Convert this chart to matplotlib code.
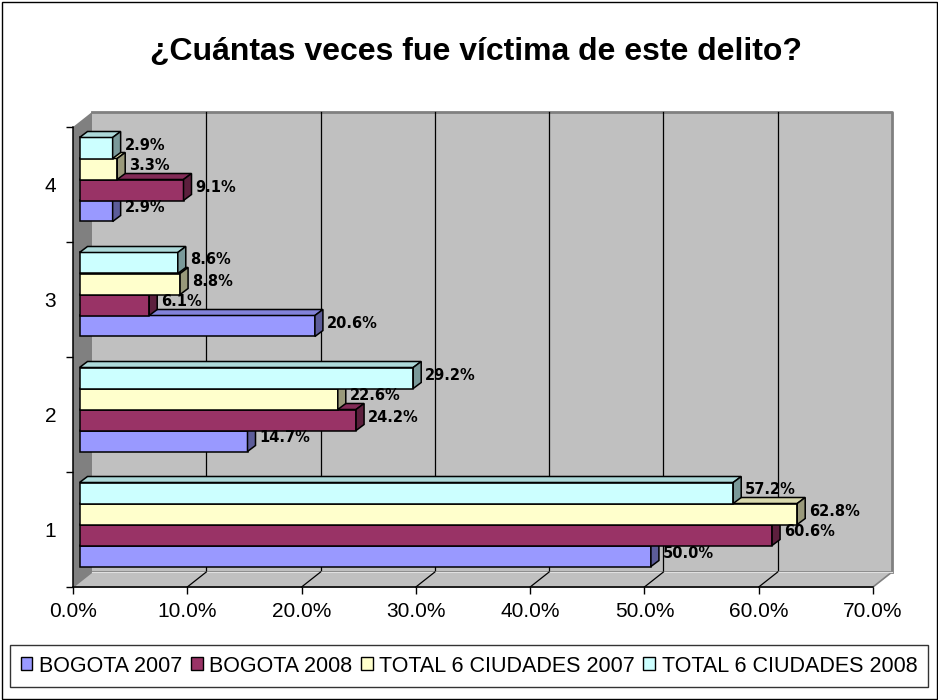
import matplotlib
matplotlib.use('Agg')
import matplotlib.pyplot as plt
from matplotlib.patches import Polygon, Rectangle, Patch
from matplotlib.transforms import offset_copy
import numpy as np

# ---------------- data ----------------
categories = ['1', '2', '3', '4']
series_names = ['BOGOTA 2007', 'BOGOTA 2008', 'TOTAL 6 CIUDADES 2007', 'TOTAL 6 CIUDADES 2008']
bogota_2007 = [50.0, 14.7, 20.6, 2.9]
bogota_2008 = [60.6, 24.2, 6.1, 9.1]
total_2007 = [62.8, 22.6, 8.8, 3.3]
total_2008 = [57.2, 29.2, 8.6, 2.9]
xtick_vals = [0, 10, 20, 30, 40, 50, 60, 70]
title = '¿Cuántas veces fue víctima de este delito?'

series_values = [bogota_2007, bogota_2008, total_2007, total_2008]
colors = ['#9999FF', '#993366', '#FFFFCC', '#CCFFFF']

plt.rcParams['font.family'] = ['Liberation Sans', 'DejaVu Sans']

W, H = 938, 700
fig = plt.figure(figsize=(W / 100, H / 100), dpi=100)
fig.patch.set_facecolor('white')

# front plane of the 3D box in pixels
x_left, x_right = 73, 873
y_top, y_bot = 127, 587
ax = fig.add_axes([x_left / W, (H - y_bot) / H, (x_right - x_left) / W, (y_bot - y_top) / H])
ax.set_xlim(0, 70)
ax.set_ylim(0.5, 4.5)
ax.patch.set_visible(False)

PX = 70 / (x_right - x_left)      # data x per pixel
PY = 4.0 / (y_bot - y_top)        # data y per pixel

# depth geometry (pixels)
wall_dx, wall_dy = 19, 15
bar_fx, bar_fy = 6.5, 5
bar_dx, bar_dy = 8, 6

DX, DY = wall_dx * PX, wall_dy * PY
bx, by = bar_dx * PX, bar_dy * PY

back = offset_copy(ax.transData, fig=fig, x=wall_dx, y=wall_dy, units='dots')
bartr = offset_copy(ax.transData, fig=fig, x=bar_fx, y=bar_fy, units='dots')

wall_col = '#C0C0C0'
dark = '#808080'

# back wall
ax.add_patch(Rectangle((0, 0.5), 70, 4.0, transform=back, facecolor=wall_col,
                       edgecolor='none', zorder=0, clip_on=False))
ax.plot([0, 70, 70], [4.5, 4.5, 0.5], transform=back, color=dark, lw=2, zorder=0.5,
        clip_on=False, solid_capstyle='projecting')
for xv in xtick_vals[1:-1]:
    ax.plot([xv, xv], [0.5, 4.5], transform=back, color='black', lw=0.9, zorder=0.6, clip_on=False)

# left wall
ax.add_patch(Polygon([(0, 0.5), (0, 4.5), (DX, 4.5 + DY), (DX, 0.5 + DY)],
                     facecolor=dark, edgecolor='none', zorder=0.7, clip_on=False))
# floor
ax.add_patch(Polygon([(0, 0.5), (70, 0.5), (70 + DX, 0.5 + DY), (DX, 0.5 + DY)],
                     facecolor=wall_col, edgecolor=dark, lw=1.2, zorder=0.8, clip_on=False))
ax.plot([DX, 70 + DX], [0.5 + DY, 0.5 + DY], color='#E0E0E0', lw=0.8, zorder=0.85, clip_on=False)
for xv in xtick_vals[1:-1]:
    ax.plot([xv, xv + DX], [0.5, 0.5 + DY], color='black', lw=0.9, zorder=0.9, clip_on=False)

# bars
n = len(series_values)
bh = 21 * PY
for i, (vals, col) in enumerate(zip(series_values, colors)):
    rgb = np.array(matplotlib.colors.to_rgb(col))
    top_col = rgb * 0.85
    side_col = rgb * 0.6
    for j, v in enumerate(vals):
        yc = (j + 1) + (i - (n - 1) / 2) * bh
        y0, y1 = yc - bh / 2, yc + bh / 2
        z = 2 + i
        ax.barh(yc, v, height=bh, left=0, color=col, edgecolor='black', linewidth=1.1,
                transform=bartr, zorder=z, clip_on=False)
        ax.add_patch(Polygon([(0, y1), (v, y1), (v + bx, y1 + by), (bx, y1 + by)],
                             transform=bartr, facecolor=top_col, edgecolor='black', lw=1.1,
                             zorder=z, clip_on=False))
        ax.add_patch(Polygon([(v, y0), (v + bx, y0 + by), (v + bx, y1 + by), (v, y1)],
                             transform=bartr, facecolor=side_col, edgecolor='black', lw=1.1,
                             zorder=z, clip_on=False))
        ax.annotate(f'{v:.1f}%', xy=(v, yc), xycoords=bartr,
                    xytext=(bar_dx + 4, bar_dy / 2), textcoords='offset pixels',
                    ha='left', va='center', fontsize=10.5, fontweight='bold',
                    family=['DejaVu Sans'], zorder=10, annotation_clip=False)

# axes lines / ticks
for s in ['top', 'right']:
    ax.spines[s].set_visible(False)
for s in ['left', 'bottom']:
    ax.spines[s].set_color('black')
    ax.spines[s].set_linewidth(1.1)
    ax.spines[s].set_zorder(1)

ax.set_xticks(xtick_vals)
ax.set_xticklabels([f'{v:.1f}%' for v in xtick_vals], fontsize=15)
ax.tick_params(axis='x', direction='out', length=5, width=1, pad=6, colors='black')
ax.set_yticks([1, 2, 3, 4])
ax.set_yticklabels(categories, fontsize=15)
ax.tick_params(axis='y', which='major', length=0, pad=12)
ax.set_yticks([0.5, 1.5, 2.5, 3.5, 4.5], minor=True)
ax.tick_params(axis='y', which='minor', direction='out', length=5, width=1)

# title
fig.text(476 / W, 1 - 60 / H, title, ha='center', va='baseline', fontsize=23, fontweight='bold')

# legend
handles = [Patch(facecolor=c, edgecolor='black', linewidth=1) for c in colors]
leg = fig.legend(handles, series_names, loc='center', bbox_to_anchor=(469 / W, 1 - 666 / H),
                 ncol=4, frameon=True, fancybox=False, edgecolor='black', fontsize=15.5,
                 handlelength=0.55, handleheight=0.55, handletextpad=0.3, columnspacing=0.4,
                 borderpad=0.5, borderaxespad=0)
leg.get_frame().set_linewidth(1)

# outer frame
fig.patches.append(Rectangle((1.5 / W, 1.5 / H), 1 - 3 / W, 1 - 3 / H, transform=fig.transFigure,
                             fill=False, edgecolor='black', lw=1))

fig.savefig('out.png', dpi=100)
